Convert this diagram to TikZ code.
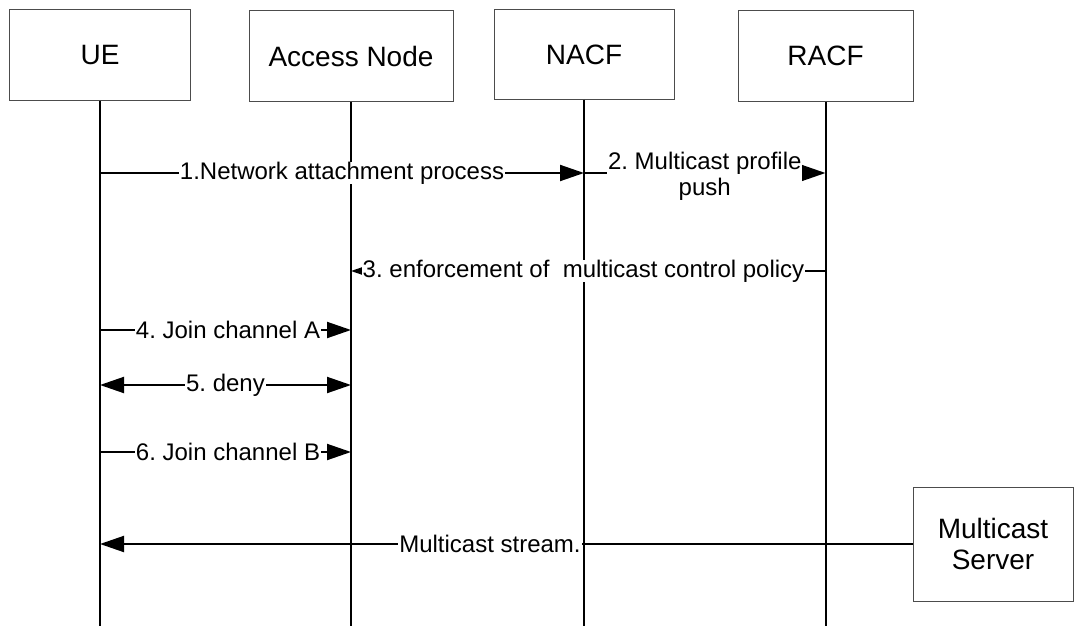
\documentclass[tikz,border=0pt]{standalone}
\usepackage{fontspec}
\setmainfont{Liberation Sans}
\usetikzlibrary{arrows.meta}
\frenchspacing
\begin{document}
\begin{tikzpicture}[x=1pt,y=-1pt,
  entity/.style={draw=black!70, line width=1pt, fill=white, font=\fontsize{28}{31}\selectfont, inner sep=0pt, align=center},
  life/.style={line width=2pt},
  msg/.style={line width=2pt, -{Triangle[length=24pt,width=16pt]}},
  bimsg/.style={line width=2pt, {Triangle[length=24pt,width=16pt]}-{Triangle[length=24pt,width=16pt]}},
  lbl/.style={fill=white, inner xsep=1pt, inner ysep=0pt, font=\fontsize{24}{26}\selectfont, align=center},
]
\useasboundingbox (0,0) rectangle (1076,626);
\node[entity, minimum width=181pt, minimum height=90pt] (ue) at (100,55) {UE};
\node[entity, minimum width=204pt, minimum height=90pt] (an) at (351,56) {Access Node};
\node[entity, minimum width=180pt, minimum height=89pt] (nacf) at (584,54.5) {NACF};
\node[entity, minimum width=175pt, minimum height=90pt] (racf) at (825.5,56) {RACF};
\coordinate (bot) at (0,626);
\draw[life] (ue.south) -- (ue.south |- bot);
\draw[life] (an.south) -- (an.south |- bot);
\draw[life] (nacf.south) -- (nacf.south |- bot);
\draw[life] (racf.south) -- (racf.south |- bot);
\node[entity, minimum width=160pt, minimum height=114pt] (ms) at (993,544) {Multicast\\Server};
\coordinate (r1) at (0,173);
\coordinate (r3) at (0,271);
\coordinate (r4) at (0,330);
\coordinate (r5) at (0,385);
\coordinate (r6) at (0,452);
\draw[msg] (ue.south |- r1) -- node[lbl]{1.Network attachment process} (nacf.south |- r1);
\draw[msg] (nacf.south |- r1) -- node[lbl, yshift=-3pt]{2. Multicast profile\\push} (racf.south |- r1);
\draw[msg] (racf.south |- r3) -- node[lbl, pos=0.51]{3. enforcement of\ \ multicast control policy} (an.south |- r3);
\draw[msg] (ue.south |- r4) -- node[lbl, pos=0.51]{4. Join channel A} (an.south |- r4);
\draw[bimsg] (ue.south |- r5) -- node[lbl]{5. deny} (an.south |- r5);
\draw[msg] (ue.south |- r6) -- node[lbl, pos=0.51]{6. Join channel B} (an.south |- r6);
\draw[msg] (ms.west) -- node[lbl, pos=0.52]{Multicast stream.} (ue.south |- ms.west);
\end{tikzpicture}
\end{document}
